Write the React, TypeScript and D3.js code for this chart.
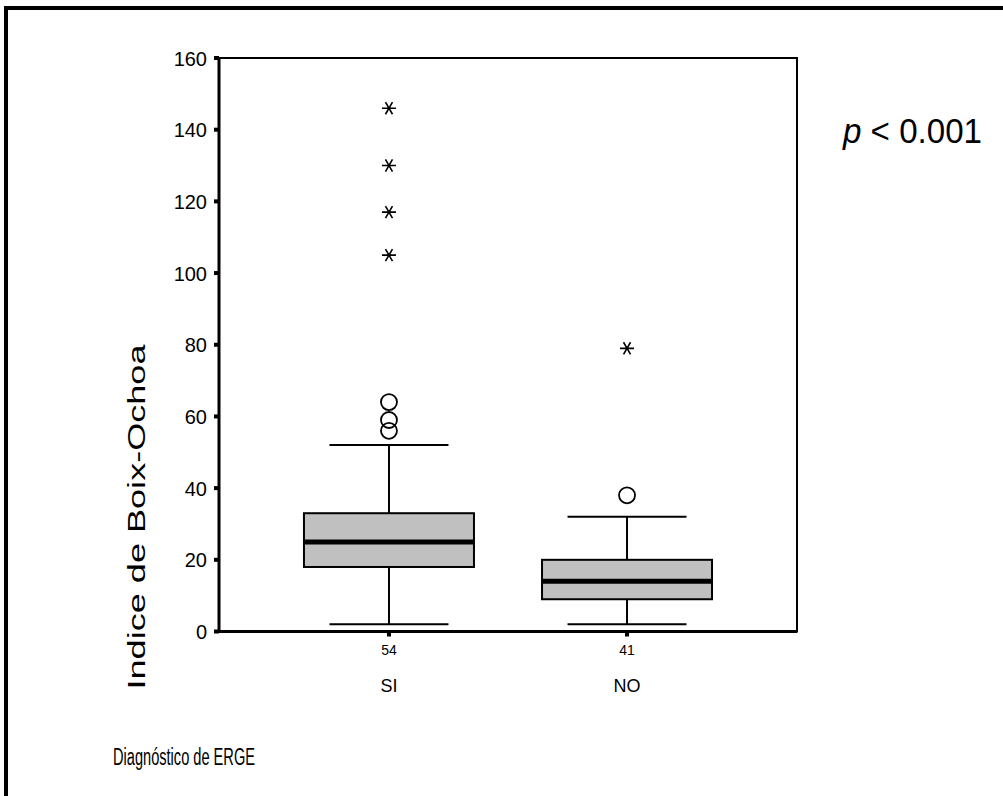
import React from "react";
import * as d3 from "d3";

const categories = ["SI", "NO"];
const counts = [54, 41];
const whiskerLow = [2, 2];
const q1 = [18, 9];
const medians = [25, 14];
const q3 = [33, 20];
const whiskerHigh = [52, 32];
const outliers = [[56, 59, 64], [38]];
const extremes = [[105, 117, 130, 146], [79]];
const yTicks = [0, 20, 40, 60, 80, 100, 120, 140, 160];

const W = 1003;
const H = 796;
const plot = { left: 219, right: 797, top: 58, bottom: 631.5 };
const font = "Arial, 'Liberation Sans', Helvetica, sans-serif";

const App = () => {
  const y = d3.scaleLinear().domain([0, 160]).range([plot.bottom, plot.top]);
  const x = d3
    .scalePoint()
    .domain(categories)
    .range([plot.left, plot.right])
    .padding(0.714);
  const boxW = 170;
  const capW = 119;

  const star = (cx, cy, r) => {
    const path = d3.path();
    [0, 60, 120].forEach(a => {
      const rad = (a * Math.PI) / 180;
      path.moveTo(cx - r * Math.cos(rad), cy - r * Math.sin(rad));
      path.lineTo(cx + r * Math.cos(rad), cy + r * Math.sin(rad));
    });
    return path.toString();
  };

  return (
    <svg
      width={W}
      height={H}
      style={{ position: "absolute", left: 0, top: 0, background: "#fff" }}
      fontFamily={font}
    >
      <rect x={6} y={8} width={1020} height={820} fill="none" stroke="#000" strokeWidth={4} />

      {/* plot frame */}
      <rect
        x={plot.left}
        y={plot.top}
        width={plot.right - plot.left}
        height={plot.bottom - plot.top}
        fill="none"
        stroke="#000"
        strokeWidth={2}
      />
      <line x1={plot.left} x2={plot.left} y1={plot.top} y2={plot.bottom} stroke="#000" strokeWidth={3} />
      <line x1={plot.left} x2={plot.right} y1={plot.bottom} y2={plot.bottom} stroke="#000" strokeWidth={3} />

      {yTicks.map(t => (
        <g key={t}>
          <rect x={plot.left - 5} y={y(t) - 2} width={5} height={4} fill="#000" />
          <text x={207} y={y(t)} dy="0.38em" textAnchor="end" fontSize={20}>
            {t}
          </text>
        </g>
      ))}

      {categories.map((c, i) => {
        const cx = x(c);
        return (
          <g key={c}>
            <rect x={cx - 2} y={plot.bottom} width={4} height={5} fill="#000" />
            <text x={cx} y={650} dy="0.35em" textAnchor="middle" fontSize={14}>
              {counts[i]}
            </text>
            <text x={cx} y={686} dy="0.35em" textAnchor="middle" fontSize={18}>
              {c}
            </text>

            <line x1={cx} x2={cx} y1={y(whiskerHigh[i])} y2={y(q3[i])} stroke="#000" strokeWidth={2} />
            <line x1={cx} x2={cx} y1={y(q1[i])} y2={y(whiskerLow[i])} stroke="#000" strokeWidth={2} />
            <line x1={cx - capW / 2} x2={cx + capW / 2} y1={y(whiskerHigh[i])} y2={y(whiskerHigh[i])} stroke="#000" strokeWidth={2} />
            <line x1={cx - capW / 2} x2={cx + capW / 2} y1={y(whiskerLow[i])} y2={y(whiskerLow[i])} stroke="#000" strokeWidth={2} />
            <rect
              x={cx - boxW / 2}
              y={y(q3[i])}
              width={boxW}
              height={y(q1[i]) - y(q3[i])}
              fill="#c0c0c0"
              stroke="#000"
              strokeWidth={2}
            />
            <line x1={cx - boxW / 2} x2={cx + boxW / 2} y1={y(medians[i])} y2={y(medians[i])} stroke="#000" strokeWidth={5} />

            {outliers[i].map((v, j) => (
              <circle key={j} cx={cx} cy={y(v)} r={8} fill="none" stroke="#000" strokeWidth={1.8} />
            ))}
            {extremes[i].map((v, j) => (
              <path key={j} d={star(cx, y(v), 7)} stroke="#000" strokeWidth={1.6} fill="none" />
            ))}
          </g>
        );
      })}

      <text
        transform="translate(137, 517) rotate(-90)"
        textAnchor="middle"
        dy="0.35em"
        fontSize={23}
        textLength={345}
        lengthAdjust="spacingAndGlyphs"
      >
        Indice de Boix-Ochoa
      </text>
      <text x={113} y={765} fontSize={23} textLength={142} lengthAdjust="spacingAndGlyphs">
        Diagnóstico de ERGE
      </text>
      <text x={843} y={143} fontSize={35} textLength={139} lengthAdjust="spacingAndGlyphs">
        <tspan fontStyle="italic">p</tspan> &lt; 0.001
      </text>
    </svg>
  );
};

export default App;
